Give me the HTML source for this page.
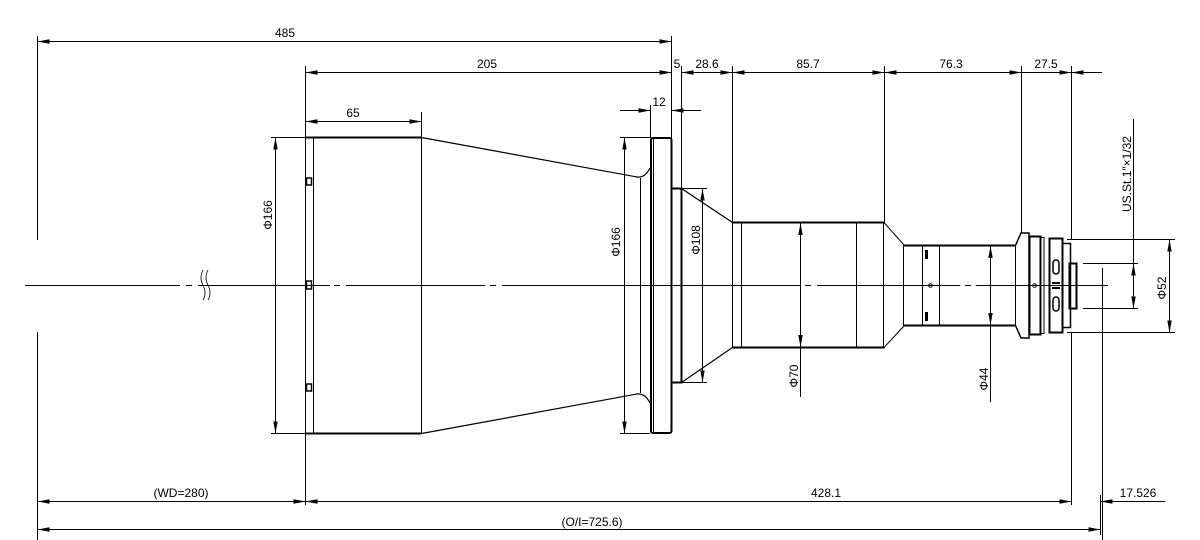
<!DOCTYPE html>
<html><head><meta charset="utf-8"><style>
html,body{margin:0;padding:0;background:#fff;}
svg{display:block;}
text{font-family:"Liberation Sans Narrow","Liberation Sans",sans-serif;font-size:12px;fill:#000;}
</style></head><body>
<svg width="1200" height="540" viewBox="0 0 1200 540" xmlns="http://www.w3.org/2000/svg">
<defs>
<marker id="a" viewBox="0 0 12 6" refX="12" refY="3" markerWidth="12" markerHeight="6" orient="auto-start-reverse" markerUnits="userSpaceOnUse"><path d="M0,0.8 L12,3 L0,5.2 Z" fill="#000"/></marker>
</defs>
<g stroke="#000" stroke-width="1" fill="none">
<!-- center line -->
<path d="M25,285.5 H180 M186,285.5 H192 M198,285.5 H330 M334,285.5 H340 M346,285.5 H485 M490,285.5 H496 M502,285.5 H800 M805,285.5 H811 M817,285.5 H960 M965,285.5 H971 M976,285.5 H1108"/>
<path d="M203,270 q-4,8 0,15 q4,8 0,15 M208,270 q-4,8 0,15 q4,8 0,15" stroke-width="0.8"/>
<!-- extension lines -->
<path d="M37.5,36 V240 M37.5,332 V540"/>
<path d="M305.5,66 V505"/>
<path d="M421.5,112 V137"/>
<path d="M671.5,36 V138 M681.5,66 V188 M650.5,105 V138"/>
<path d="M732.5,66 V223 M884.5,66 V223 M1021.5,66 V233 M1071.5,66 V240"/>
<path d="M1071.5,332 V505 M1102.5,268 V540 M1100.5,495 V535"/>
<!-- top dims -->
<path d="M37.5,41.5 H671.5" marker-start="url(#a)" marker-end="url(#a)"/>
<path d="M305.5,72.5 H671.5" marker-start="url(#a)" marker-end="url(#a)"/>
<path d="M650,72.5 H671.5" marker-end="url(#a)"/>
<path d="M681.5,72.5 H732.5" marker-start="url(#a)" marker-end="url(#a)"/>
<path d="M732.5,72.5 H884.5" marker-start="url(#a)" marker-end="url(#a)"/>
<path d="M884.5,72.5 H1021.5" marker-start="url(#a)" marker-end="url(#a)"/>
<path d="M1021.5,72.5 H1071.5" marker-end="url(#a)"/>
<path d="M1071.5,72.5 H1102" />
<path d="M1086,72.5 H1071.5" marker-end="url(#a)"/>
<path d="M305.5,121.5 H421.5" marker-start="url(#a)" marker-end="url(#a)"/>
<path d="M620,110.5 H650.5" marker-end="url(#a)"/>
<path d="M701,110.5 H671.5" marker-end="url(#a)"/>
<!-- bottom dims -->
<path d="M37.5,501.5 H305.5" marker-start="url(#a)" marker-end="url(#a)"/>
<path d="M305.5,501.5 H1071.5" marker-start="url(#a)" marker-end="url(#a)"/>
<path d="M1100.5,501.5 H1165"/>
<path d="M1116,501.5 H1100.5" marker-end="url(#a)"/>
<path d="M37.5,529.5 H1100.5" marker-start="url(#a)" marker-end="url(#a)"/>
<!-- diameter dims -->
<path d="M271,137.5 H305 M271,433.5 H305"/>
<path d="M275.5,137.5 V433.5" marker-start="url(#a)" marker-end="url(#a)"/>
<path d="M620,137.5 H650 M620,433.5 H650"/>
<path d="M624.5,137.5 V433.5" marker-start="url(#a)" marker-end="url(#a)"/>
<path d="M682,188.5 H707 M682,382.5 H707"/>
<path d="M702.5,188.5 V382.5" marker-start="url(#a)" marker-end="url(#a)"/>
<path d="M800.5,223 V397" />
<path d="M800.5,260 V223" marker-end="url(#a)"/>
<path d="M800.5,310 V347" marker-end="url(#a)"/>
<path d="M990.5,246 V402"/>
<path d="M990.5,280 V246" marker-end="url(#a)"/>
<path d="M990.5,295 V325" marker-end="url(#a)"/>
<path d="M1067,239.5 H1175 M1067,332.5 H1175"/>
<path d="M1169.5,239.5 V332.5" marker-start="url(#a)" marker-end="url(#a)"/>
<path d="M1083,263.5 H1138 M1083,308.5 H1138"/>
<path d="M1133.5,119 V308.5"/>
<path d="M1133.5,280 V263.5" marker-end="url(#a)"/>
<path d="M1133.5,292 V308.5" marker-end="url(#a)"/>
</g>
<!-- lens body -->
<g stroke="#000" fill="none">
<path d="M305.5,137.5 H421.5 M305.5,433.5 H421.5" stroke-width="2"/>
<path d="M305.5,137.5 V433.5 M313.5,137.5 V433.5 M421.5,137.5 V433.5" stroke-width="1"/>
<rect x="306.5" y="178" width="5" height="7" stroke-width="1.5"/>
<rect x="306.5" y="281" width="5" height="8" stroke-width="1.5"/>
<rect x="306.5" y="384" width="5" height="7" stroke-width="1.5"/>
<path d="M421.5,137.5 L637,177 Q645,178 650,168 M421.5,433.5 L637,394 Q645,393 650,403" stroke-width="1.2"/>
<path d="M640.5,178 V393"/>
<rect x="651" y="138" width="20.5" height="295" rx="2" stroke-width="2"/>
<path d="M653.5,139 V432"/>
<path d="M671.5,188.5 H681.5 V382.5 H671.5" stroke-width="2"/>
<path d="M681.5,188.5 L732.5,222.5 M681.5,382.5 L732.5,347.5" stroke-width="1.2"/>
<path d="M732.5,222.5 H884.5 M732.5,347.5 H884.5" stroke-width="2"/>
<path d="M732.5,222.5 V347.5 M741.5,222.5 V347.5 M856.5,222.5 V347.5 M883.5,222.5 V347.5"/>
<path d="M884,222.5 L904,245 M884,347.5 L904,326"/>
<path d="M903.5,245.5 H1015.5 M903.5,325.5 H1015.5" stroke-width="2"/>
<path d="M903.5,245.5 V325.5 M922.5,245.5 V325.5 M939.5,245.5 V325.5 M1015.5,245.5 V325.5"/>
<circle cx="930.5" cy="285.5" r="1.8"/>
<circle cx="1034.5" cy="285.5" r="1.8"/>
<path d="M1015.5,245.5 L1021,233 H1029 V338 H1021 L1015.5,325.5" stroke-width="1.5"/>
<rect x="1029.5" y="236.5" width="11" height="98" stroke-width="2"/>
<rect x="1041" y="237.5" width="3" height="96" stroke-width="1"/>
<rect x="1049.5" y="238.5" width="13" height="94" stroke-width="2"/>
<rect x="1062.5" y="243.5" width="8" height="84" stroke-width="1.5"/>
<rect x="1069.5" y="263.5" width="7" height="45" stroke-width="2"/>
<rect x="1053" y="260" width="6" height="14" rx="3" stroke-width="1.5"/>
<rect x="1053" y="297" width="6" height="14" rx="3" stroke-width="1.5"/>
<path d="M1052,283 H1060 M1052,288 H1060" stroke-width="2"/>
</g>
<g fill="#000">
<rect x="925" y="250" width="3" height="9"/><rect x="925" y="312" width="3" height="9"/>
</g>
<!-- text -->
<text x="285" y="37" text-anchor="middle">485</text>
<text x="487" y="68" text-anchor="middle">205</text>
<text x="677" y="68" text-anchor="middle">5</text>
<text x="707" y="68" text-anchor="middle">28.6</text>
<text x="808" y="68" text-anchor="middle">85.7</text>
<text x="951" y="68" text-anchor="middle">76.3</text>
<text x="1046" y="68" text-anchor="middle">27.5</text>
<text x="353" y="117" text-anchor="middle">65</text>
<text x="659" y="106" text-anchor="middle">12</text>
<text x="181" y="497" text-anchor="middle">(WD=280)</text>
<text x="826" y="497" text-anchor="middle">428.1</text>
<text x="1138" y="497" text-anchor="middle">17.526</text>
<text x="592" y="526" text-anchor="middle">(O/I=725.6)</text>
<text transform="translate(272,215) rotate(-90)" text-anchor="middle">Φ166</text>
<text transform="translate(620,242) rotate(-90)" text-anchor="middle">Φ166</text>
<text transform="translate(700,240) rotate(-90)" text-anchor="middle">Φ108</text>
<text transform="translate(798,376) rotate(-90)" text-anchor="middle">Φ70</text>
<text transform="translate(988,379) rotate(-90)" text-anchor="middle">Φ44</text>
<text transform="translate(1166,288) rotate(-90)" text-anchor="middle">Φ52</text>
<text transform="translate(1131,174) rotate(-90)" text-anchor="middle">US.St.1″×1/32</text>
</svg>
</body></html>
